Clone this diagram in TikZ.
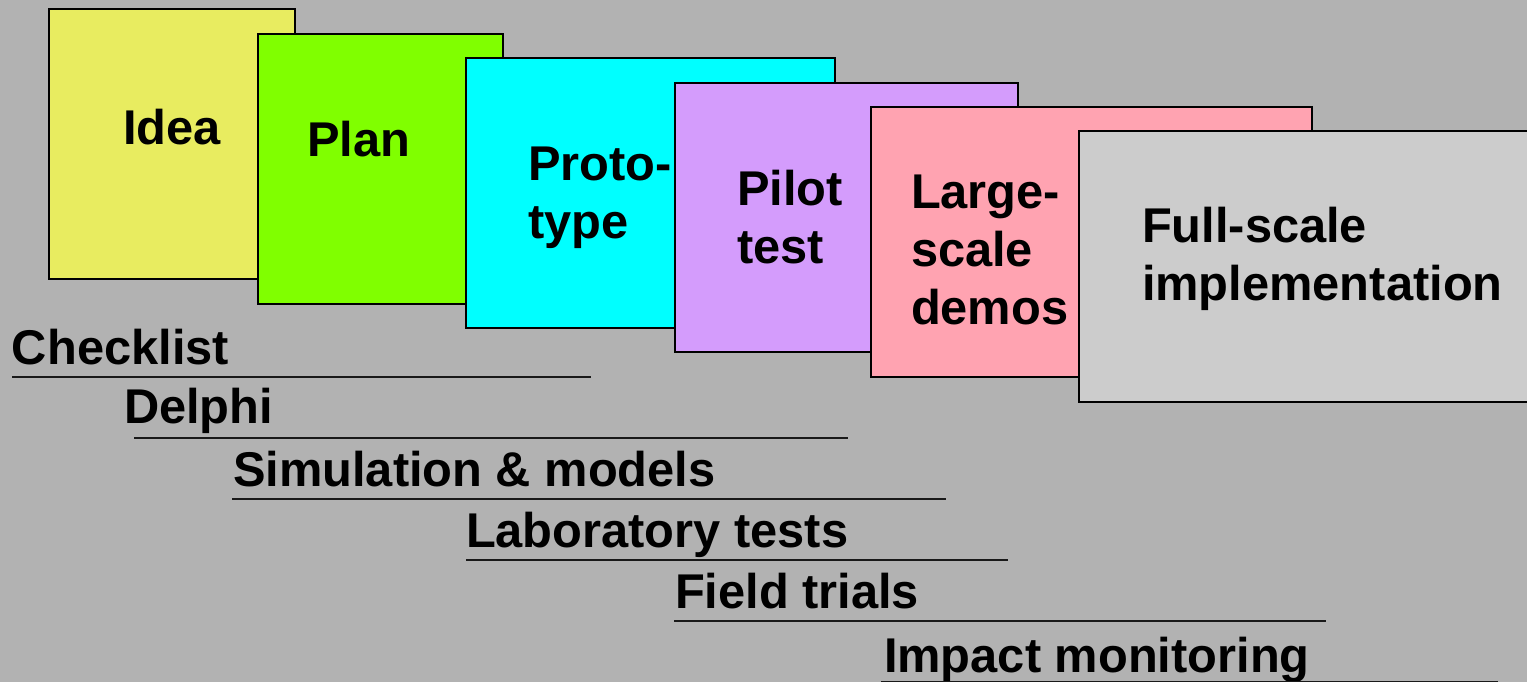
\documentclass[tikz,border=0pt]{standalone}
\usepackage{fontspec}
\setmainfont{Liberation Sans}
\usetikzlibrary{positioning}
\definecolor{bggray}{RGB}{178,178,178}
\definecolor{ideacol}{RGB}{232,236,96}
\definecolor{plancol}{RGB}{128,255,0}
\definecolor{protocol}{RGB}{0,255,255}
\definecolor{pilotcol}{RGB}{212,156,252}
\definecolor{largecol}{RGB}{255,163,177}
\definecolor{fullcol}{RGB}{204,204,204}

\begin{document}
\begin{tikzpicture}[x=1pt,y=-1pt,inner sep=0pt,outer sep=0pt]
\tikzstyle{card}=[rectangle, draw=black, line width=2.4pt, anchor=north west]
\tikzstyle{stage}=[anchor=base west, align=left, font=\bfseries\fontsize{48.8}{58}\selectfont]
\tikzstyle{method}=[anchor=base west, font=\bfseries\fontsize{48.8}{58}\selectfont]
\tikzstyle{rule}=[line width=2pt, black!90]
\fill[bggray] (0,0) rectangle (1527,682);
\useasboundingbox (0,0) rectangle (1527,682);
\clip (0,0) rectangle (1527,682);
% stacked stage cards
\node[card,fill=ideacol,minimum width=246pt,minimum height=270pt] (idea) at (49,9) {};
\node[card,fill=plancol,minimum width=245pt,minimum height=270pt] (plan) at (258,34) {};
\node[card,fill=protocol,minimum width=369pt,minimum height=270pt] (proto) at (466,58) {};
\node[card,fill=pilotcol,minimum width=343pt,minimum height=269pt] (pilot) at (675,83) {};
\node[card,fill=largecol,minimum width=441pt,minimum height=270pt] (large) at (871,107) {};
\node[card,fill=fullcol,minimum width=480pt,minimum height=271pt] (full) at (1079,131) {};
% texts sit on the baseline of their last line
\node[stage] (ideat) at (123,145) {Idea};
\node[stage] (plant) at (307,157) {Plan};
\node[stage] (protot) at (528,238) {Proto-\\type};
\node[stage] (pilott) at (737,263) {Pilot\\test};
\node[stage] (larget) at (911,324) {Large-\\scale\\demos};
\node[stage] (fullt) at (1142,300) {Full-scale\\implementation};
% methods with their spans
\node[method] (check) at (12,364) {Checklist};
\node[method] (delphi) at (124,423) {Delphi};
\node[method] (simul) at (233,486) {Simulation \& models};
\node[method] (lab) at (466,547) {Laboratory tests};
\node[method] (field) at (675,608) {Field trials};
\node[method] (impact) at (884,672) {Impact monitoring};
\coordinate (checkA) at (12,376.5);  \coordinate (checkB) at (591,376.5);
\coordinate (delphiA) at (134,437.5); \coordinate (delphiB) at (848,437.5);
\coordinate (simulA) at (232,498.5); \coordinate (simulB) at (946,498.5);
\coordinate (labA) at (466,559.5);   \coordinate (labB) at (1008,559.5);
\coordinate (fieldA) at (674,621);   \coordinate (fieldB) at (1326,621);
\coordinate (impactA) at (881,681.5); \coordinate (impactB) at (1498,681.5);
\draw[rule] (checkA) -- (checkB);
\draw[rule] (delphiA) -- (delphiB);
\draw[rule] (simulA) -- (simulB);
\draw[rule] (labA) -- (labB);
\draw[rule] (fieldA) -- (fieldB);
\draw[rule] (impactA) -- (impactB);
\end{tikzpicture}
\end{document}
